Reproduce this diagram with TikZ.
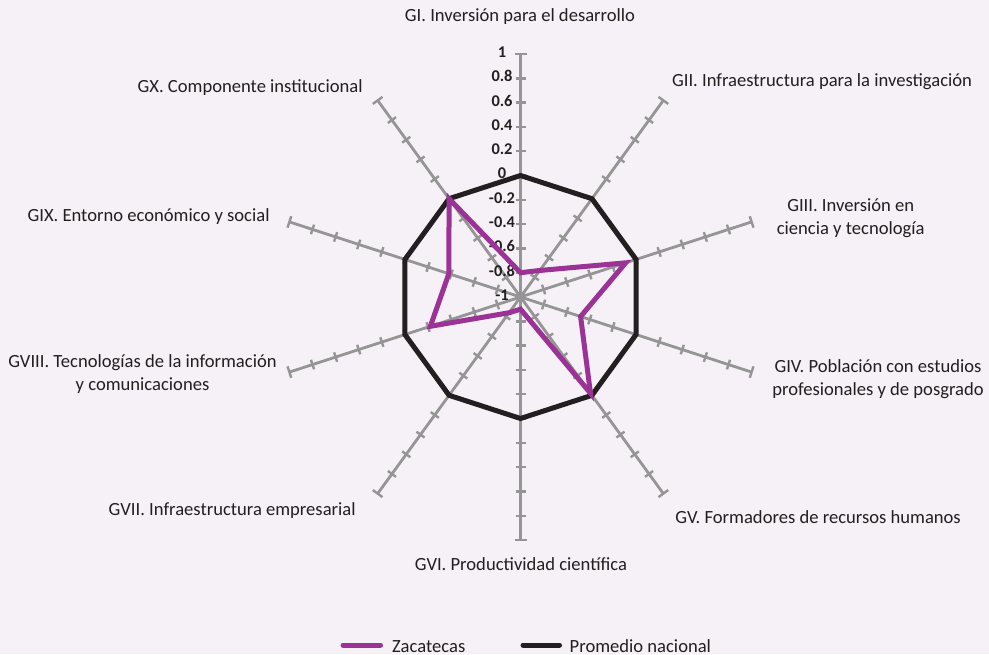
\documentclass[tikz,border=0pt]{standalone}
\usepackage{fontspec}
\setmainfont{Carlito}
\usetikzlibrary{positioning}
\definecolor{bgpink}{HTML}{F6F0F7}
\definecolor{zacpurple}{HTML}{9B3396}
\definecolor{natblack}{HTML}{231F20}
\definecolor{axisgray}{HTML}{959595}
\definecolor{textgray}{HTML}{231F20}
\tikzset{
  axisline/.style = {draw=axisgray, line width=1.4pt},
  tickmark/.style = {draw=axisgray, line width=1.2pt},
  scalelabel/.style = {font=\fontsize{8.2}{9}\selectfont\bfseries, text=textgray, inner sep=0pt},
  grouplabel/.style = {font=\fontsize{9.3}{11.5}\selectfont, text=textgray, align=center, inner sep=0pt},
  national/.style = {draw=natblack, line width=2.5pt},
  state/.style = {draw=zacpurple, line width=2.5pt},
  legendline/.style = {line width=2.5pt, line cap=round}
}

\begin{document}
\begin{tikzpicture}[x=0.5pt, y=0.5pt]

\fill[bgpink] (-520.5,-357) rectangle (468.5,297);
\useasboundingbox (-520.5,-357) rectangle (468.5,297);

\foreach \i in {0,...,9} {
  \begin{scope}[rotate=90-36*\i]
    \draw[axisline] (0,0) -- (243,0);
    \foreach \k in {1,...,9}
      \draw[tickmark] (24.3*\k,-5) -- (24.3*\k,5);
    \draw[tickmark] (243,-6) -- (243,6);
  \end{scope}
}

\foreach \v [count=\k from 0] in {-1,-0.8,-0.6,-0.4,-0.2,0,0.2,0.4,0.6,0.8,1}
  \node[scalelabel] (s\k) at (-18.5,24.3*\k+2) {\v};

\foreach \i in {0,...,9}
  \coordinate (n\i) at ({90-36*\i}:121.5);
\foreach \v [count=\i from 0] in {-0.80,-0.73,-0.09,-0.48,-0.02,-0.90,-0.84,-0.22,-0.38,0.00}
  \coordinate (z\i) at ({90-36*\i}:{(\v+1)*121.5});

\draw[national] (n0) -- (n1) -- (n2) -- (n3) -- (n4) -- (n5) -- (n6) -- (n7) -- (n8) -- (n9) -- cycle;
\draw[state] (z0) -- (z1) -- (z2) -- (z3) -- (z4) -- (z5) -- (z6) -- (z7) -- (z8) -- (z9) -- cycle;

\node[grouplabel] (gi) at (-0.5,280) {GI. Inversión para el desarrollo};
\node[grouplabel, anchor=west] (gii) at (151.2,215.3) {GII. Infraestructura para la investigación};
\node[grouplabel] (giii) at (330.2,79) {GIII. Inversión en\\ciencia y tecnología};
\node[grouplabel] (giv) at (357.5,-82) {GIV. Población con estudios\\profesionales y de posgrado};
\node[grouplabel, anchor=west] (gv) at (154.5,-219.7) {GV. Formadores de recursos humanos};
\node[grouplabel] (gvi) at (0.5,-267) {GVI. Productividad científica};
\node[grouplabel, anchor=east] (gvii) at (-164.5,-213.7) {GVII. Infraestructura empresarial};
\node[grouplabel] (gviii) at (-378,-77.5) {GVIII. Tecnologías de la información\\y comunicaciones};
\node[grouplabel, anchor=east] (gix) at (-250.5,80) {GIX. Entorno económico y social};
\node[grouplabel, anchor=east] (gx) at (-157.5,209) {GX. Componente institucional};

\coordinate (zacstart) at (-177.5,-348);
\coordinate (zacend) at (-140,-348);
\coordinate (natstart) at (2.5,-348);
\coordinate (natend) at (39,-348);
\draw[legendline, zacpurple] (zacstart) -- (zacend);
\draw[legendline, natblack] (natstart) -- (natend);
\node[grouplabel, anchor=base west] (zaclabel) at (-128.8,-355) {Zacatecas};
\node[grouplabel, anchor=base west] (natlabel) at (48.8,-355) {Promedio nacional};

\end{tikzpicture}
\end{document}
